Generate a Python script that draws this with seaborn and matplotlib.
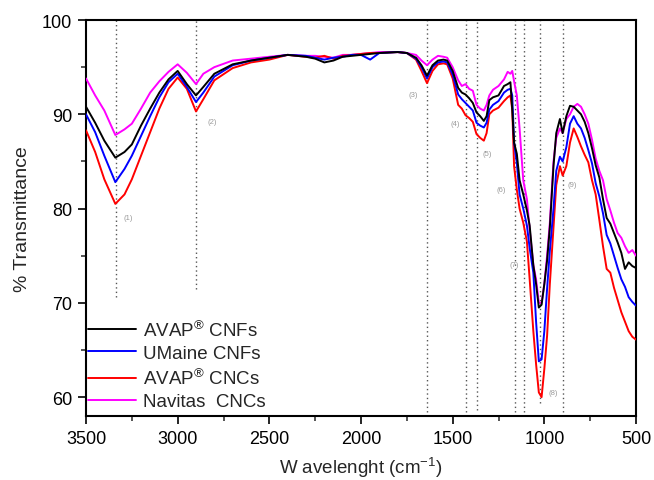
import numpy as np
import pandas as pd
import matplotlib
matplotlib.use("Agg")
import matplotlib.pyplot as plt
from matplotlib.ticker import MultipleLocator
import seaborn as sns

# ---------------- data ----------------
wavenumber = [3500, 3450, 3400, 3340, 3290, 3250, 3200, 3150, 3100, 3050, 3000, 2950, 2900, 2860,
              2800, 2700, 2600, 2500, 2400, 2300, 2250, 2200, 2150, 2100, 2050, 2000, 1950, 1900,
              1800, 1750, 1700, 1670, 1640, 1610, 1580, 1550, 1530,
              1500, 1470, 1450, 1430, 1410, 1390, 1370, 1350, 1330, 1315, 1300, 1280, 1250, 1220, 1200,
              1185, 1175, 1165, 1150, 1135, 1115, 1095, 1080, 1060, 1045, 1030, 1015, 1000, 985, 970,
              950, 935, 915, 900, 880, 860, 840,
              820, 800, 780, 760, 740, 720, 700, 680, 660, 640, 620, 600, 580, 560, 540, 520, 500]

avap_cnfs = [90.8, 89.1, 87.2, 85.4, 86.0, 86.8, 88.8, 90.6, 92.3, 93.7, 94.6, 93.2, 92.0, 92.9,
             94.3, 95.3, 95.7, 96.0, 96.3, 96.1, 95.9, 95.5, 95.7, 96.1, 96.2, 96.3, 96.4, 96.5,
             96.6, 96.5, 96.0, 95.2, 94.1, 95.2, 95.7, 95.8, 95.7,
             94.6, 92.8, 92.3, 92.1, 91.7, 91.2, 90.2, 89.8, 89.3, 89.8, 91.5, 91.8, 92.0, 93.0, 93.2,
             93.4, 90.5, 87.0, 85.8, 83.0, 81.5, 79.8, 78.2, 74.0, 72.0, 69.5, 69.8, 72.0, 74.5, 78.0,
             84.5, 88.0, 89.5, 88.0, 89.8, 90.9, 90.8,
             90.4, 90.0, 89.2, 88.0, 86.4, 84.6, 83.3, 81.0, 79.0, 78.4, 77.4, 76.4, 75.3, 73.6, 74.3, 73.9, 73.7]

umaine_cnfs = [90.0, 88.1, 85.6, 82.8, 84.2, 85.6, 87.7, 89.8, 91.8, 93.4, 94.3, 92.9, 91.3, 92.3,
               94.0, 95.2, 95.7, 96.0, 96.3, 96.2, 96.0, 95.8, 96.0, 96.1, 96.3, 96.3, 95.8, 96.5,
               96.6, 96.5, 95.9, 95.0, 93.8, 95.0, 95.5, 95.6, 95.5,
               94.2, 92.1, 91.6, 91.2, 90.8, 90.4, 89.1, 88.8, 88.6, 89.1, 90.5, 91.0, 91.4, 92.3, 92.6,
               92.7, 92.0, 87.0, 84.8, 81.5, 80.0, 78.2, 75.8, 73.2, 68.0, 63.8, 64.0, 67.0, 71.5, 75.5,
               80.0, 84.0, 85.5, 85.0, 86.5, 89.0, 89.8,
               89.0, 88.5, 87.5, 86.2, 84.8, 82.7, 81.3, 79.5, 77.2, 76.3, 75.0, 73.7, 72.5, 71.7, 70.6, 70.1, 69.7]

avap_cncs = [88.3, 86.0, 83.1, 80.5, 81.5, 83.1, 85.6, 88.1, 90.6, 92.7, 93.9, 92.7, 90.3, 91.6,
             93.6, 94.9, 95.5, 95.8, 96.3, 96.1, 96.0, 96.2, 95.9, 96.2, 96.3, 96.4, 96.5, 96.5,
             96.6, 96.5, 95.8, 94.6, 93.3, 94.6, 95.3, 95.4, 95.3,
             93.8, 91.0, 90.6, 89.9, 89.6, 89.2, 87.9, 87.5, 87.2, 88.0, 90.0, 90.4, 90.7, 91.4, 91.8,
             92.0, 90.5, 84.5, 82.0, 80.0, 78.5, 76.5, 72.5, 67.0, 63.5, 60.5, 60.0, 63.0, 66.5, 72.0,
             78.0, 82.5, 84.5, 83.5, 84.5, 87.0, 88.5,
             87.6, 86.6, 85.7, 84.9, 83.0, 81.5, 78.8, 76.0, 73.6, 73.2, 71.6, 70.3, 69.0, 68.0, 67.0, 66.4, 66.1]

navitas_cncs = [93.8, 92.0, 90.4, 87.8, 88.4, 89.0, 90.6, 92.3, 93.5, 94.5, 95.3, 94.4, 93.2, 94.3,
                95.0, 95.7, 95.9, 96.1, 96.3, 96.2, 96.2, 96.1, 96.0, 96.3, 96.3, 96.4, 96.5, 96.6,
                96.6, 96.5, 96.3, 95.7, 95.2, 95.8, 96.2, 96.1, 96.0,
                95.0, 93.6, 93.0, 93.2, 92.7, 92.5, 91.0, 90.6, 90.4, 91.0, 92.0, 92.6, 93.0, 93.7, 94.5,
                94.3, 94.6, 93.5, 92.0, 88.5, 83.0, 81.0, 77.8, 74.0, 72.5, 70.0, 70.0, 72.0, 75.0, 78.5,
                85.0, 87.5, 88.5, 88.0, 89.5, 90.0, 90.8,
                91.1, 90.8, 90.0, 89.0, 87.3, 85.3, 84.0, 83.0, 81.0, 79.8, 78.5, 77.4, 76.9, 76.0, 75.3, 75.6, 75.0]

series_labels = [r"AVAP$^{\circledR}$ CNFs", "UMaine CNFs", r"AVAP$^{\circledR}$ CNCs", "Navitas  CNCs"]
series_colors = ["#000000", "#0000ff", "#ff0000", "#ff00ff"]

# band positions (dotted guides) and their labels
peak_wn = [3335, 2900, 1640, 1428, 1365, 1160, 1110, 1025, 898]
peak_line_bottom = [70.6, 71.5, 58.4, 58.4, 58.6, 58.4, 58.4, 59.4, 58.4]
peak_names = ["(1)", "(2)", "(3)", "(4)", "(5)", "(6)", "(7)", "(8)", "(9)"]
peak_label_wn = [3271, 2813, 1718, 1487, 1314, 1233, 1165, 954, 849]
peak_label_t = [79.0, 89.2, 92.1, 89.0, 85.8, 82.0, 74.1, 60.5, 82.5]

x_ticks = [3500, 3000, 2500, 2000, 1500, 1000, 500]
y_ticks = [60, 70, 80, 90, 100]

# ---------------- plotting ----------------
sns.set_style("ticks")
plt.rcParams["font.family"] = ["Liberation Sans", "DejaVu Sans"]
plt.rcParams["mathtext.fontset"] = "custom"
plt.rcParams["mathtext.rm"] = "Liberation Sans"

fig = plt.figure(figsize=(6.54, 4.81), dpi=100)
ax = fig.add_axes([86 / 654, 1 - 417 / 481, 550 / 654, 396 / 481])

frames = []
for lab, vals in zip(series_labels, [avap_cnfs, umaine_cnfs, avap_cncs, navitas_cncs]):
    frames.append(pd.DataFrame({"wn": wavenumber, "T": vals, "sample": lab}))
df = pd.concat(frames, ignore_index=True)

# guides first
ax.vlines(peak_wn, peak_line_bottom, 100, colors="#555555",
          linestyles=(0, (1, 2.2)), linewidth=1.0, zorder=1)
for name, px, py in zip(peak_names, peak_label_wn, peak_label_t):
    ax.text(px, py, name, fontsize=5.5, color="#9a9a9a", ha="center", va="center", zorder=2)

draw_order = [3, 2, 1, 0]
for i in draw_order:
    sub = df[df["sample"] == series_labels[i]]
    sns.lineplot(data=sub, x="wn", y="T", color=series_colors[i], linewidth=1.4,
                 estimator=None, sort=False, ax=ax, label=series_labels[i], zorder=3 + (3 - i))

h, l = ax.get_legend_handles_labels()
lookup = dict(zip(l, h))
leg = ax.legend([lookup[s] for s in series_labels], series_labels, loc="lower left",
                bbox_to_anchor=(-0.01, -0.005), borderaxespad=0, frameon=False,
                fontsize=13.5, handlelength=2.55, handletextpad=0.4, labelspacing=0.28)
for line in leg.get_lines():
    line.set_linewidth(1.4)

ax.set_xlim(3500, 500)
ax.set_ylim(58, 100)
ax.set_xticks(x_ticks)
ax.set_yticks(y_ticks)
ax.xaxis.set_minor_locator(MultipleLocator(250))
ax.yaxis.set_minor_locator(MultipleLocator(5))
ax.tick_params(axis="both", which="major", direction="out", length=6, width=1.2,
               labelsize=13, pad=4, colors="black")
ax.tick_params(axis="both", which="minor", direction="out", length=3.5, width=1.1)
for sp in ax.spines.values():
    sp.set_visible(True)
    sp.set_linewidth(1.5)
    sp.set_color("black")

ax.set_xlabel("W avelenght (cm$^{-1}$)", fontsize=13.5, labelpad=5)
ax.set_ylabel("% Transmittance", fontsize=14, labelpad=8)

fig.savefig("out.png", dpi=100)
